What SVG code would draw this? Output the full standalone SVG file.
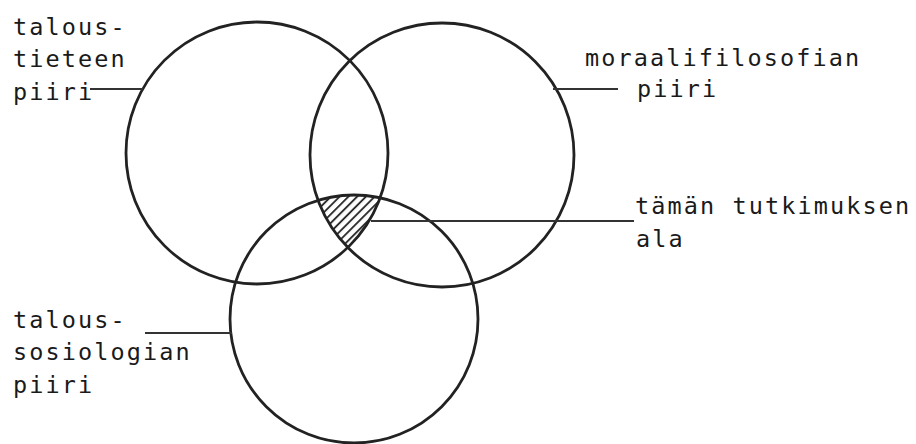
<svg xmlns="http://www.w3.org/2000/svg" width="916" height="444" viewBox="0 0 916 444">
<style>
.c{fill:none;stroke:#222;stroke-width:2.8}
.l{stroke:#333;stroke-width:2;fill:none}
.t{font-family:"DejaVu Sans Mono","Liberation Mono",monospace;font-size:23.5px;letter-spacing:2.1px;fill:#1a1a1a}
</style>
<defs>
<pattern id="hatch" patternUnits="userSpaceOnUse" width="6.2" height="6.2" patternTransform="rotate(45)">
<line x1="1" y1="0" x2="1" y2="6.2" stroke="#222" stroke-width="1.8"/>
</pattern>
<clipPath id="k1"><circle cx="257" cy="153" r="131"/></clipPath>
<clipPath id="k2"><circle cx="442" cy="155" r="132"/></clipPath>
<clipPath id="k3"><circle cx="354" cy="319" r="124"/></clipPath>
</defs>
<rect width="916" height="444" fill="#fff"/>
<g id="ala">
<g clip-path="url(#k1)"><g clip-path="url(#k2)"><g clip-path="url(#k3)">
<rect x="300" y="190" width="100" height="70" fill="url(#hatch)"/>
</g></g></g>
<text class="t" x="635" y="214">tämän tutkimuksen</text>
<text class="t" x="636" y="247">ala</text>
</g>
<g id="taloustiede">
<circle class="c" cx="257" cy="153" r="131"/>
<text class="t" x="13" y="35">talous-</text>
<text class="t" x="13" y="67">tieteen</text>
<text class="t" x="13" y="100">piiri</text>
</g>
<g id="moraalifilosofia">
<circle class="c" cx="442" cy="155" r="132"/>
<text class="t" x="585" y="66">moraalifilosofian</text>
<text class="t" x="637" y="97">piiri</text>
</g>
<g id="taloussosiologia">
<circle class="c" cx="354" cy="319" r="124"/>
<text class="t" x="13" y="328">talous-</text>
<text class="t" x="13" y="360">sosiologian</text>
<text class="t" x="13" y="393">piiri</text>
</g>
<g id="connectors">
<line class="l" x1="90" y1="89" x2="143" y2="89"/>
<line class="l" x1="553" y1="89" x2="618" y2="89"/>
<line class="l" x1="371" y1="221" x2="634" y2="221"/>
<line class="l" x1="145" y1="333" x2="232" y2="333"/>
</g>
</svg>
